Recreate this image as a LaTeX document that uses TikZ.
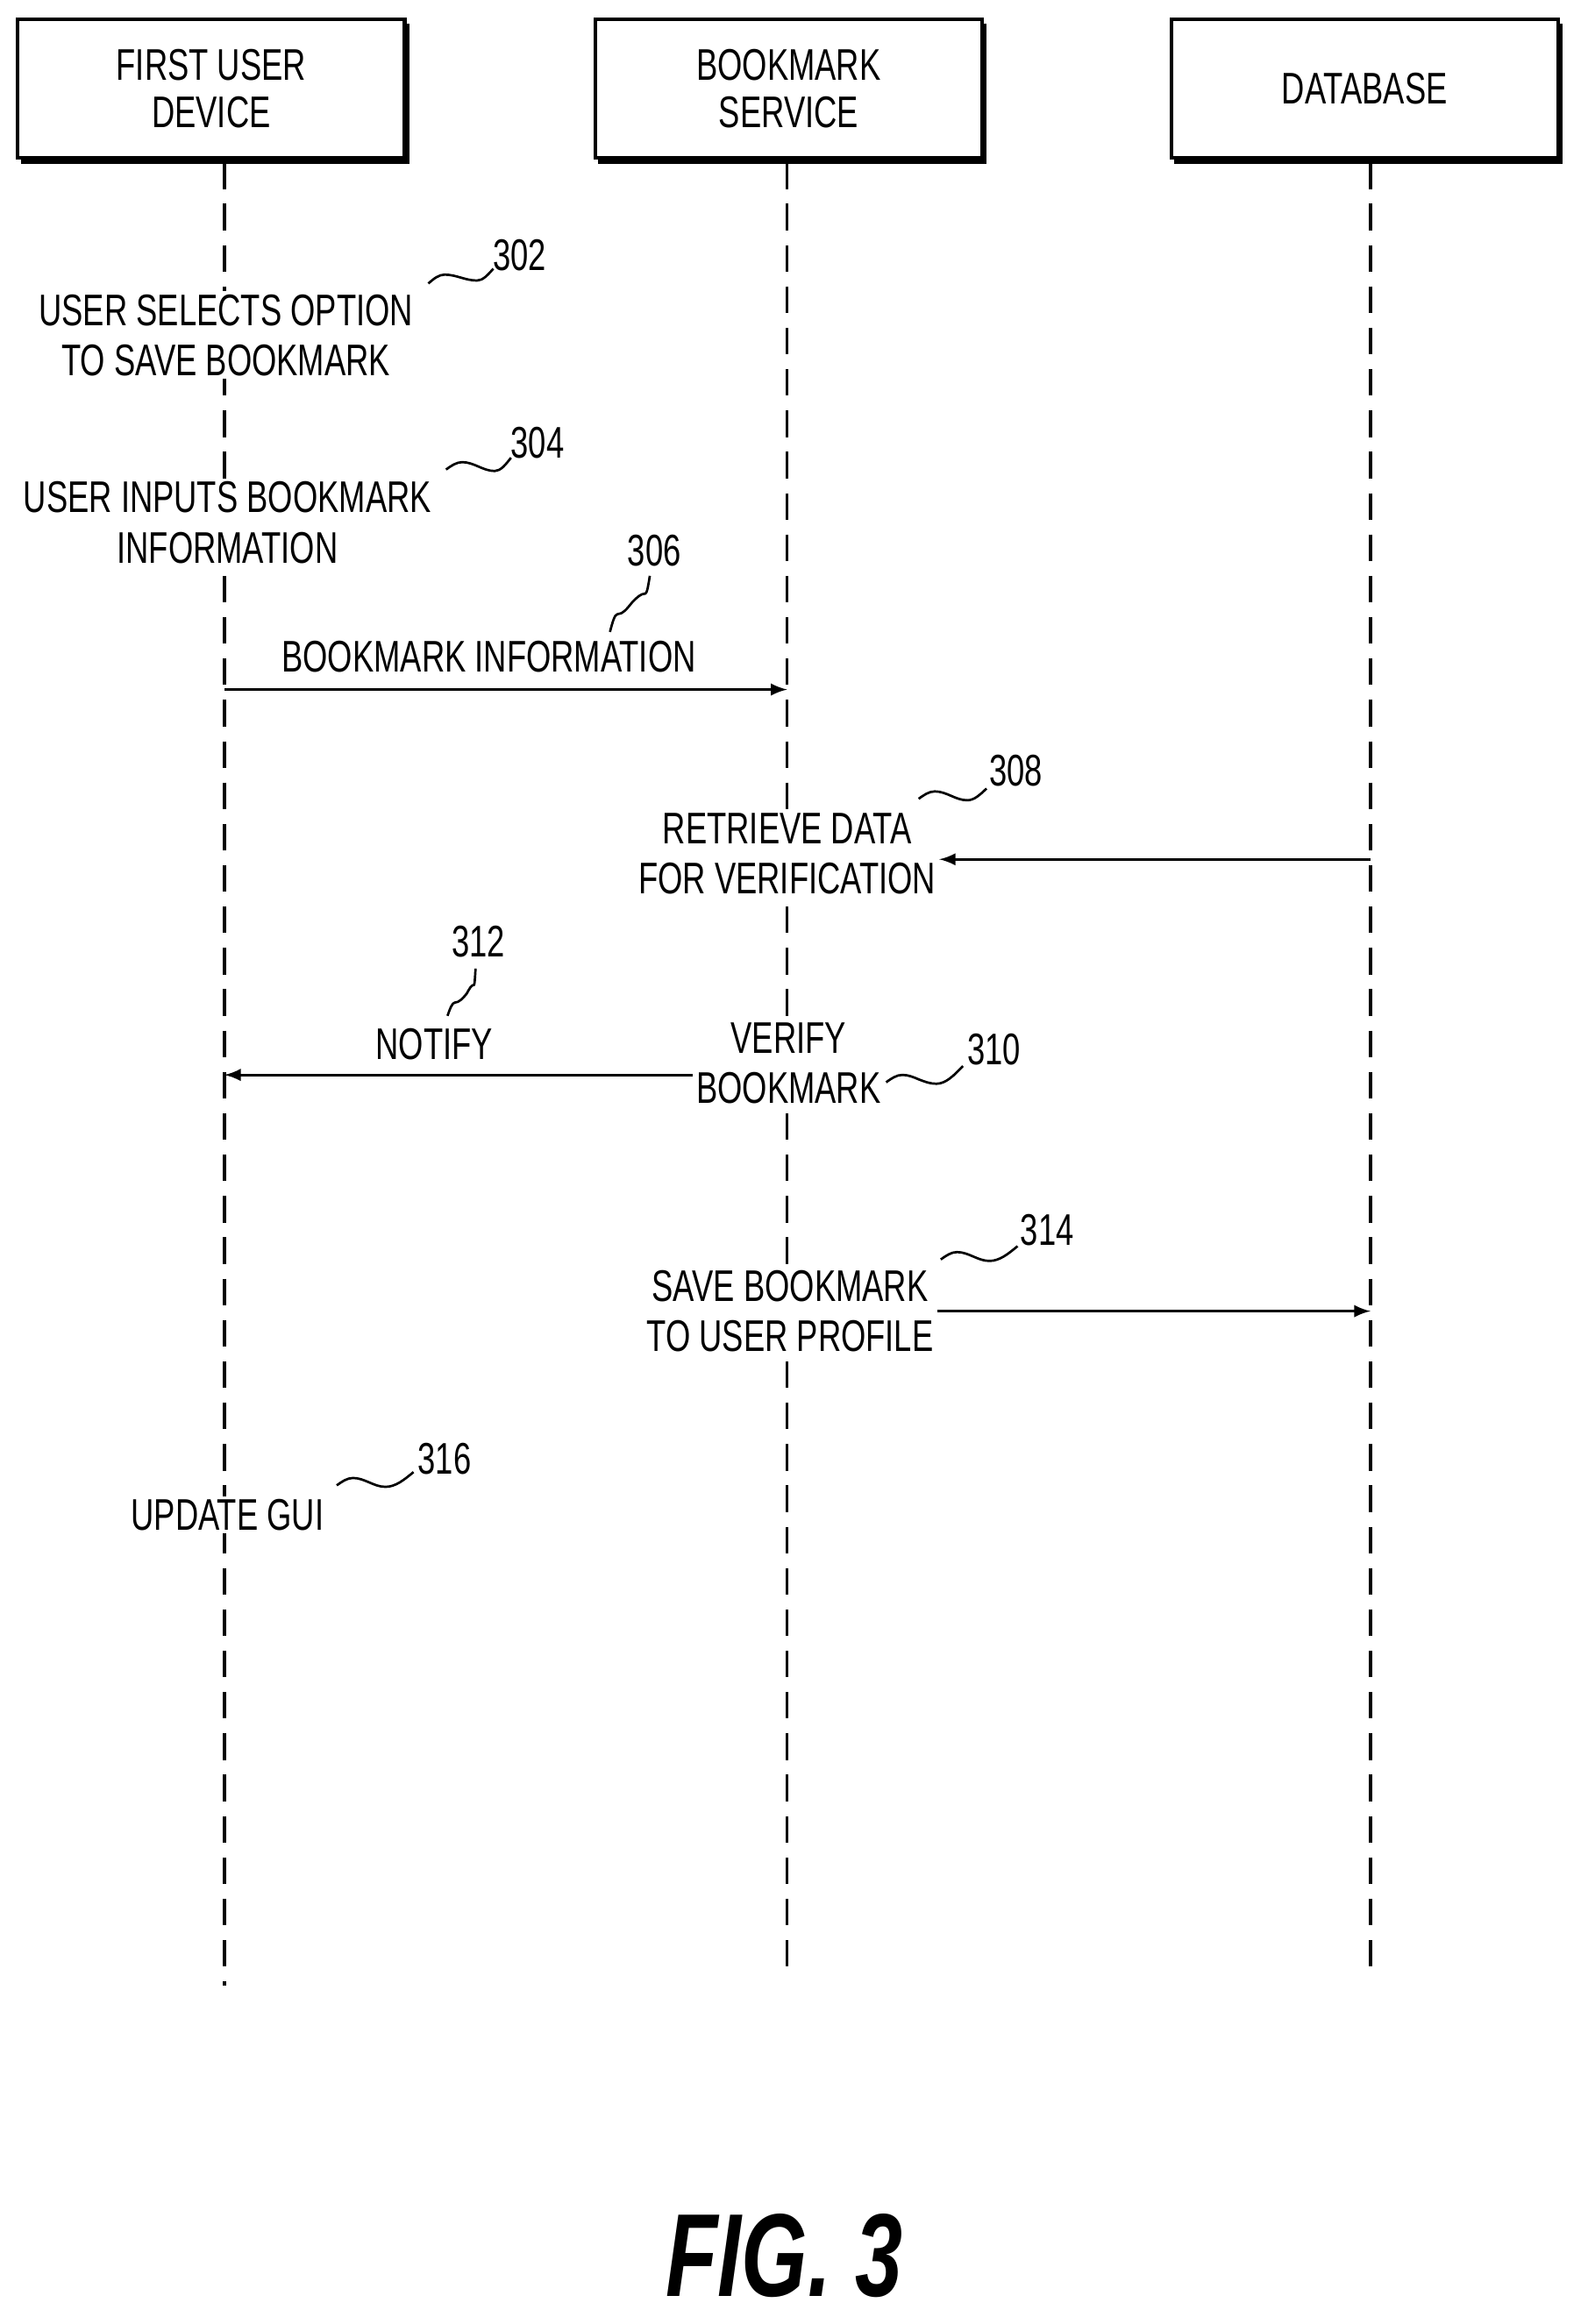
\documentclass[tikz,border=0pt]{standalone}
\usepackage{fontspec}
\setmainfont[FakeStretch=0.72]{Liberation Sans}
\begin{document}
\begin{tikzpicture}[x=0.5pt,y=-0.5pt,
  box/.style={draw,line width=1.2pt,minimum width=131pt,minimum height=47pt,align=center,font=\fontsize{15}{16}\selectfont},
  lbl/.style={fill=white,align=center,inner sep=1pt,font=\fontsize{15}{17}\selectfont},
  num/.style={inner sep=1pt,font=\fontsize{15}{17}\selectfont},
  life/.style={dashed,line width=0.9pt,dash pattern=on 9pt off 5pt},
  msg/.style={-latex,line width=0.9pt}]
\useasboundingbox (0,0) rectangle (1075,1574);
\foreach \x/\n in {143/a,534/b,924/c}{
  \fill (\x-129,16) rectangle (\x+134,111);}
\node[box,fill=white] (A) at (143,60) {FIRST USER\\DEVICE};
\node[box,fill=white] (B) at (534,60) {BOOKMARK\\SERVICE};
\node[box,fill=white] (C) at (924,60) {DATABASE};
\coordinate (a0) at (152,110); \coordinate (a1) at (152,1345);
\coordinate (b0) at (533,110); \coordinate (b1) at (533,1340);
\coordinate (c0) at (928,110); \coordinate (c1) at (928,1340);
\draw[life] (a0)--(a1); \draw[life] (b0)--(b1); \draw[life] (c0)--(c1);

\node[lbl] (t302) at (153,227) {USER SELECTS OPTION\\TO SAVE BOOKMARK};
\node[num] (n302) at (352,173) {302};
\draw[line width=0.8pt] (290,192) sin (301,186) cos (312,188) sin (323,190) cos (334,182);
\node[lbl] (t304) at (154,354) {USER INPUTS BOOKMARK\\INFORMATION};
\node[num] (n304) at (364,300) {304};
\draw[line width=0.8pt] (302,318) sin (313,313) cos (324,316) sin (335,319) cos (346,310);

\node[num] (n306) at (443,373) {306};
\draw[line width=0.8pt] (413,428) sin (418,416) cos (428,408) sin (437,402) cos (440,390);
\node[lbl,fill=none] (t306) at (331,445) {BOOKMARK INFORMATION};
\coordinate (m1a) at (152,467); \coordinate (m1b) at (533,467);
\draw[msg] (m1a) -- (m1b);

\node[lbl] (t308) at (533,578) {RETRIEVE DATA\\FOR VERIFICATION};
\node[num] (n308) at (688,522) {308};
\draw[line width=0.8pt] (622,541) sin (633,536) cos (644,539) sin (655,542) cos (668,534);
\coordinate (m2a) at (928,582);
\draw[msg] (m2a) -- (t308.east |- m2a);

\node[lbl] (t310) at (534,720) {VERIFY\\BOOKMARK};
\node[num] (n310) at (673,711) {310};
\draw[line width=0.8pt] (600,733) sin (611,728) cos (622,731) sin (634,734) cos (652,722);
\coordinate (m3b) at (152,728);
\draw[msg] (t310.west |- m3b) -- (m3b);
\node[lbl,fill=none] (t312) at (294,707) {NOTIFY};
\node[num] (n312) at (324,638) {312};
\draw[line width=0.8pt] (303,688) sin (308,679) cos (316,673) sin (321,667) cos (322,656);

\node[lbl] (t314) at (535,888) {SAVE BOOKMARK\\TO USER PROFILE};
\node[num] (n314) at (709,833) {314};
\draw[line width=0.8pt] (637,853) sin (648,848) cos (659,851) sin (670,854) cos (689,844);
\coordinate (m4b) at (928,888);
\draw[msg] (t314.east |- m4b) -- (m4b);

\node[lbl] (t316) at (154,1026) {UPDATE GUI};
\node[num] (n316) at (301,988) {316};
\draw[line width=0.8pt] (228,1006) sin (239,1001) cos (250,1004) sin (261,1007) cos (280,997);

\node[font=\fontsize{40}{44}\selectfont\bfseries\itshape] (fig) at (531,1528) {FIG. 3};
\end{tikzpicture}
\end{document}
